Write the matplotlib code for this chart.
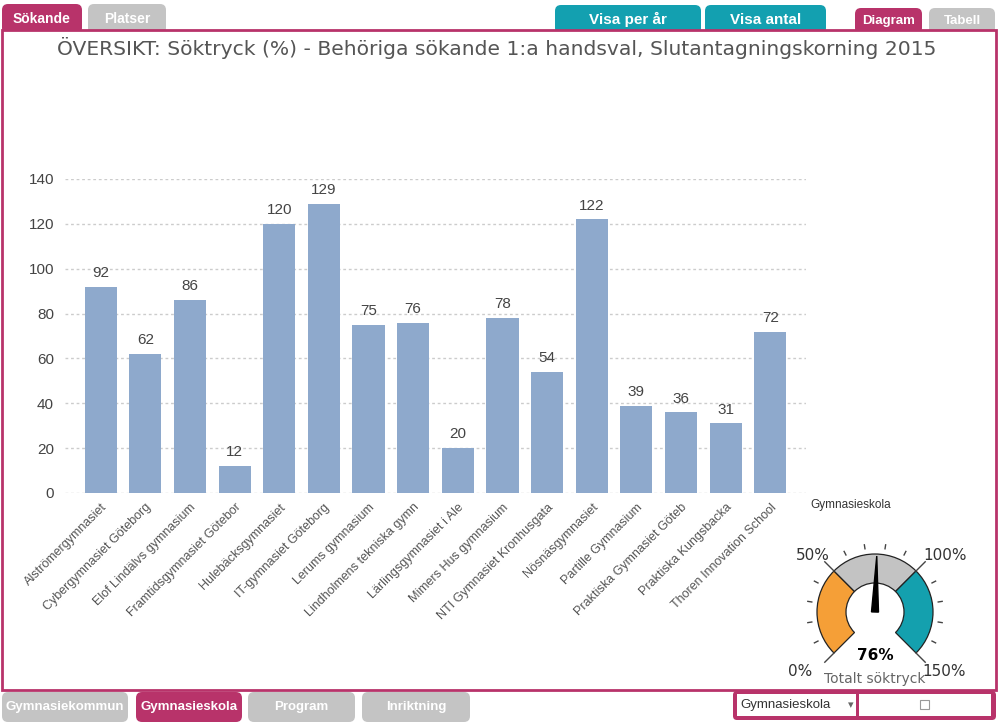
import matplotlib
matplotlib.use("Agg")
from matplotlib import pyplot as plt
from matplotlib.patches import FancyBboxPatch, Rectangle, Wedge, Polygon
import numpy as np

schools = ['Alströmergymnasiet', 'Cybergymnasiet Göteborg', 'Elof Lindälvs gymnasium',
           'Framtidsgymnasiet Götebor', 'Hulebäcksgymnasiet', 'IT-gymnasiet Göteborg',
           'Lerums gymnasium', 'Lindholmens tekniska gymn', 'Lärlingsgymnasiet i Ale',
           'Mimers Hus gymnasium', 'NTI Gymnasiet Kronhusgata', 'Nösnäsgymnasiet',
           'Partille Gymnasium', 'Praktiska Gymnasiet Göteb', 'Praktiska Kungsbacka',
           'Thoren Innovation School']
soktryck = [92, 62, 86, 12, 120, 129, 75, 76, 20, 78, 54, 122, 39, 36, 31, 72]
yticks = [0, 20, 40, 60, 80, 100, 120, 140]

total = 76
gauge_bands = [(0, 50, '#f59f37'), (50, 100, '#c3c3c3'), (100, 150, '#14a0ae')]
gauge_labels = [0, 50, 100, 150]

top_tabs = [('Sökande', 2, 82, '#b8336a'), ('Platser', 88, 166, '#c4c4c4')]
mid_tabs = [('Visa per år', 555, 701, '#13a0b0'), ('Visa antal', 705, 826, '#13a0b0')]
view_tabs = [('Diagram', 855, 922, '#b8336a'), ('Tabell', 929, 995, '#c4c4c4')]
bottom_tabs = [('Gymnasiekommun', 2, 128, '#c4c4c4'), ('Gymnasieskola', 136, 242, '#b8336a'),
               ('Program', 248, 355, '#c4c4c4'), ('Inriktning', 362, 470, '#c4c4c4')]

W, H = 999, 722
fig = plt.figure(figsize=(W / 100, H / 100), dpi=100)
fig.patch.set_facecolor('white')

# overlay in pixel coords (y measured from top)
ov = fig.add_axes([0, 0, 1, 1], zorder=0)
ov.set_xlim(0, W)
ov.set_ylim(0, H)
ov.axis('off')

def Y(y):
    return H - y

pink = '#b8336a'

def tab(label, x0, x1, y0, y1, color, fs=10):
    p = FancyBboxPatch((x0, Y(y1)), x1 - x0, y1 - y0,
                       boxstyle='round,pad=0,rounding_size=6', fc=color, ec='none')
    ov.add_patch(p)
    ov.text((x0 + x1) / 2, Y((y0 + y1) / 2), label, color='white', fontsize=fs,
            fontweight='bold', ha='center', va='center', family='Liberation Sans')

for lab, x0, x1, c in top_tabs:
    tab(lab, x0, x1, 4, 34, c)
for lab, x0, x1, c in mid_tabs:
    tab(lab, x0, x1, 5, 34, c, fs=11)
for lab, x0, x1, c in view_tabs:
    tab(lab, x0, x1, 8, 34, c, fs=9.5)
for lab, x0, x1, c in bottom_tabs:
    tab(lab, x0, x1, 692, 722, c, fs=9.5)

# main frame
ov.add_patch(Rectangle((2, Y(690)), 994, 660, fc='white', ec=pink, lw=2))

ov.text(497, Y(48), 'ÖVERSIKT: Söktryck (%) - Behöriga sökande 1:a handsval, Slutantagningskorning 2015',
        fontsize=14.6, color='#555555', ha='center', va='center', family='DejaVu Sans')

# dropdown at bottom right
ov.add_patch(FancyBboxPatch((733, Y(720)), 263, 29, boxstyle='round,pad=0,rounding_size=4',
                            fc=pink, ec='none'))
ov.add_patch(Rectangle((737, Y(716)), 119, 22, fc='white', ec='none'))
ov.add_patch(Rectangle((859, Y(716)), 132, 22, fc='white', ec='none'))
ov.text(740, Y(705), 'Gymnasieskola', fontsize=9.5, color='#333333', va='center',
        family='Liberation Sans')
ov.text(851, Y(705), '▾', fontsize=8, color='#666666', va='center', ha='center')
ov.add_patch(Rectangle((920, Y(709)), 9, 9, fc='white', ec='#999999', lw=0.8))

# bar chart
ax = fig.add_axes([65 / W, 1 - 493 / H, (806 - 65) / W, (493 - 179) / H], zorder=2)
ax.patch.set_alpha(0)
xpos = np.arange(len(schools))
ax.bar(xpos, soktryck, width=0.72, color='#8ea9cc', zorder=2)
for x, v in zip(xpos, soktryck):
    ax.text(x, v + 3, str(v), ha='center', va='bottom', fontsize=11, color='#444444',
            family='Liberation Sans')
ax.set_xlim(-0.8, len(schools) - 0.2)
ax.set_ylim(0, 140)
ax.set_yticks(yticks)
ax.set_yticklabels([str(t) for t in yticks], fontsize=11, color='#444444', family='Liberation Sans')
ax.set_xticks(xpos)
ax.set_xticklabels(schools, rotation=45, ha='right', rotation_mode='anchor', fontsize=9,
                   color='#555555', family='Liberation Sans')
ax.tick_params(length=0, pad=8)
ax.tick_params(axis='x', pad=6)
for y in yticks:
    ax.axhline(y, color='#cccccc', lw=1, ls=(0, (2, 2)), zorder=1)
for s in ax.spines.values():
    s.set_visible(False)
ov.text(810, Y(505), 'Gymnasieskola', fontsize=8.5, color='#333333', va='center',
        family='Liberation Sans')

# gauge
cx, cy = 875, Y(612)
R, r = 58, 29

def ang(v):
    return 225 - 1.8 * v

for v0, v1, c in gauge_bands:
    ov.add_patch(Wedge((cx, cy), R, ang(v1), ang(v0), width=R - r, fc=c, ec='#222222', lw=0.9))
for v in range(0, 151, 10):
    a = np.radians(ang(v))
    if v in gauge_labels:
        r0, r1 = R, R + 13
    else:
        r0, r1 = R + 6, R + 10
    ov.plot([cx + r0 * np.cos(a), cx + r1 * np.cos(a)], [cy + r0 * np.sin(a), cy + r1 * np.sin(a)],
            color='#444444', lw=1)
label_pos = {0: (800, 672), 50: (813, 556), 100: (945, 556), 150: (944, 672)}
for v in gauge_labels:
    lx, ly = label_pos[v]
    ov.text(lx, Y(ly), f'{v}%', fontsize=11, color='#333333', ha='center', va='center',
            family='DejaVu Sans')
a = np.radians(ang(total))
perp = a + np.pi / 2
tip = (cx + 56 * np.cos(a), cy + 56 * np.sin(a))
b1 = (cx + 3.5 * np.cos(perp), cy + 3.5 * np.sin(perp))
b2 = (cx - 3.5 * np.cos(perp), cy - 3.5 * np.sin(perp))
ov.add_patch(Polygon([tip, b1, b2], closed=True, fc='black', ec='black'))
ov.text(cx, Y(655), f'{total}%', fontsize=11, fontweight='bold', color='black',
        ha='center', va='center', family='DejaVu Sans')
ov.text(cx, Y(679), 'Totalt söktryck', fontsize=10, color='#666666', ha='center', va='center',
        family='DejaVu Sans')

fig.savefig('out.png', dpi=100)
